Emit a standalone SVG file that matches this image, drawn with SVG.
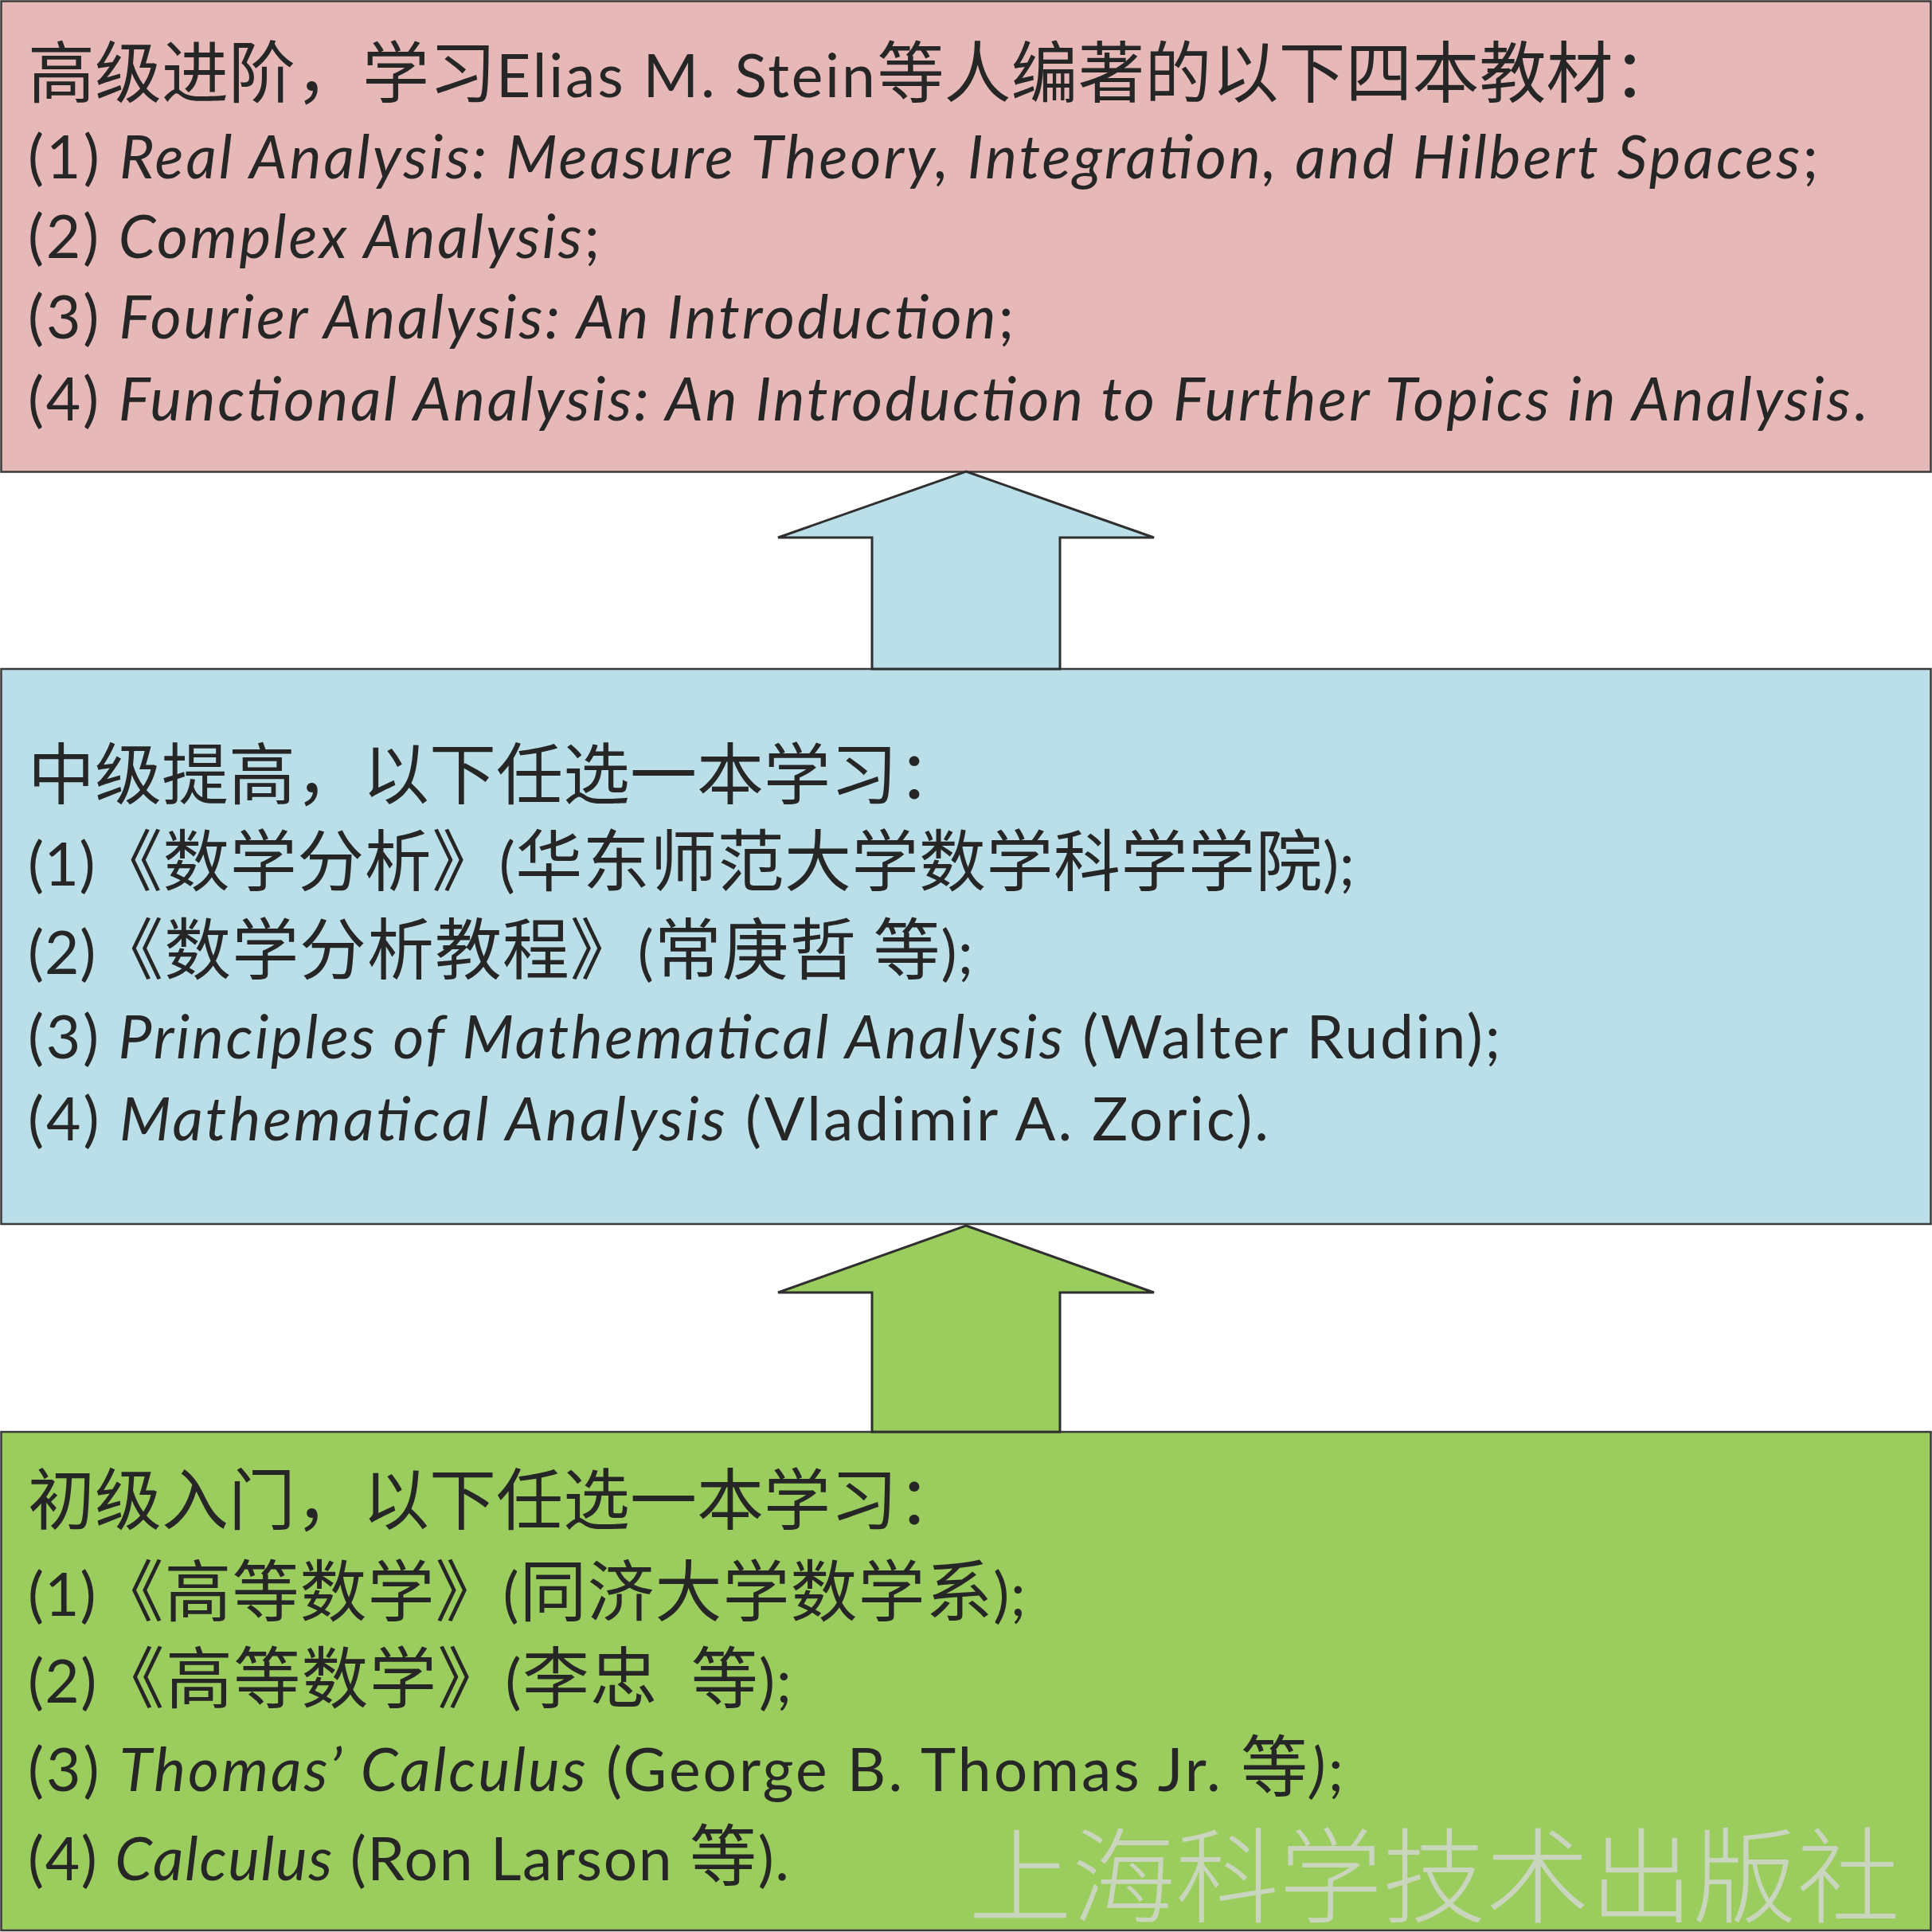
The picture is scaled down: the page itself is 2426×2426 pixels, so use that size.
<svg xmlns="http://www.w3.org/2000/svg" width="2426" height="2426" viewBox="0 0 2426 2426">
<style>
.box{stroke:#3a3a3a;stroke-width:2.5}
.arr{stroke:#2f2f2f;stroke-width:3;stroke-linejoin:miter}
.t{font-family:Lato,"Noto Sans CJK SC",sans-serif;font-size:75px;fill:#262626}
.c{font-family:"Noto Sans CJK SC",sans-serif;font-size:84px}
.i{font-style:italic}
.wm{font-family:"Noto Sans CJK SC",sans-serif;font-size:130px;font-weight:300;fill:#c9d5bd}
</style>
<rect width="2426" height="2426" fill="#ffffff"/>
<g id="node-advanced">
<rect class="box" x="1.5" y="1.5" width="2423" height="591" fill="#e6b9b8"/>
<text class="t" x="35" y="122"><tspan class="c">高级进阶，学习</tspan><tspan style="letter-spacing:2.8px">Elias M. Stein</tspan><tspan class="c">等人编著的以下四本教材：</tspan></text>
<text class="t" x="35" y="224" textLength="2248" lengthAdjust="spacing">(1) <tspan class="i">Real Analysis: Measure Theory, Integration, and Hilbert Spaces</tspan>;</text>
<text class="t" x="35" y="324" textLength="718" lengthAdjust="spacing">(2) <tspan class="i">Complex Analysis</tspan>;</text>
<text class="t" x="35" y="425" textLength="1238" lengthAdjust="spacing">(3) <tspan class="i">Fourier Analysis: An Introduction</tspan>;</text>
<text class="t" x="35" y="528" textLength="2309" lengthAdjust="spacing">(4) <tspan class="i">Functional Analysis: An Introduction to Further Topics in Analysis</tspan>.</text>
</g>
<g id="node-intermediate">
<rect class="box" x="1.5" y="840" width="2423" height="697" fill="#badfe8"/>
<text class="t" x="35" y="1003"><tspan class="c">中级提高，以下任选一本学习：</tspan></text>
<text class="t" x="35" y="1112" textLength="1666" lengthAdjust="spacing">(1)<tspan class="c">《数学分析》</tspan>(<tspan class="c">华东师范大学数学科学学院</tspan>);</text>
<text class="t" x="35" y="1223" textLength="1187" lengthAdjust="spacing">(2)<tspan class="c">《数学分析教程》</tspan>(<tspan class="c">常庚哲</tspan> <tspan class="c">等</tspan>);</text>
<text class="t" x="35" y="1329" textLength="1849" lengthAdjust="spacing">(3) <tspan class="i">Principles of Mathematical Analysis</tspan> (Walter Rudin);</text>
<text class="t" x="35" y="1432" textLength="1558" lengthAdjust="spacing">(4) <tspan class="i">Mathematical Analysis</tspan> (Vladimir A. Zoric).</text>
</g>
<g id="node-beginner">
<rect class="box" x="1.5" y="1798" width="2423" height="626" fill="#9bcc5e"/>
<text class="t" x="35" y="1914"><tspan class="c">初级入门，以下任选一本学习：</tspan></text>
<text class="t" x="35" y="2029" textLength="1253" lengthAdjust="spacing">(1)<tspan class="c">《高等数学》</tspan>(<tspan class="c">同济大学数学系</tspan>);</text>
<text class="t" x="35" y="2138" textLength="959" lengthAdjust="spacing">(2)<tspan class="c">《高等数学》</tspan>(<tspan class="c">李忠</tspan>&#160;&#160;<tspan class="c">等</tspan>);</text>
<text class="t" x="35" y="2249" textLength="1652" lengthAdjust="spacing">(3) <tspan class="i">Thomas’ Calculus</tspan> (George B. Thomas Jr. <tspan class="c">等</tspan><tspan class="i">)</tspan>;</text>
<text class="t" x="35" y="2361" textLength="956" lengthAdjust="spacing">(4) <tspan class="i">Calculus</tspan> (Ron Larson <tspan class="c">等</tspan>).</text>
<text class="wm" x="1216" y="2404">上海科学技术出版社</text>
</g>
<g id="connectors">
<polygon class="arr" fill="#badfe8" points="1213,592 1449,675 1331,675 1331,840 1095,840 1095,675 977,675"/>
<polygon class="arr" fill="#9bcc5e" points="1213,1539 1449,1623 1331,1623 1331,1798 1095,1798 1095,1623 977,1623"/>
</g>
</svg>
